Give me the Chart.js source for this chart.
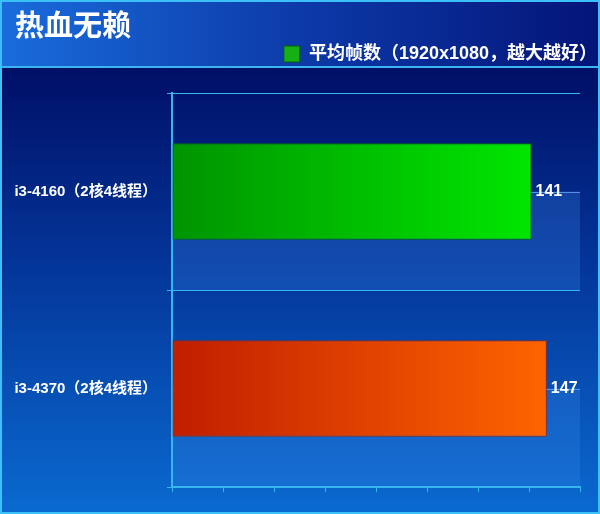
<!DOCTYPE html>
<html><head><meta charset="utf-8">
<script src="https://cdn.jsdelivr.net/npm/chart.js@4.4.0/dist/chart.umd.min.js"></script>
<style>html,body{margin:0;padding:0;background:#02106a;} #wrap{width:600px;height:514px;position:relative;} canvas{display:block;}</style>
</head><body><div id="wrap"><canvas id="c" width="600" height="514"></canvas></div>
<script>
const chartTitle = '热血无赖';
const seriesName = '平均帧数（1920x1080，越大越好）';
const categories = ['i3-4160（2核4线程）', 'i3-4370（2核4线程）'];
const fps = [141, 147];
const xTicks = [0, 20, 40, 60, 80, 100, 120, 140, 160];

const FONT = '"Liberation Sans", "Noto Sans CJK SC", sans-serif';
const barStart = ['#009400', '#c01e00'];
const barEnd = ['#00e600', '#ff6400'];
const barEdge = ['#006a00', '#9a2a10'];
const AXIS = '#36b6ee';

const bgPlugin = {
  id: 'bg',
  beforeLayout(chart) {
    const lg = chart.legend;
    if (lg && !lg._patched) {
      const f = lg.fit;
      lg.fit = function () { f.call(this); this.height += 20; };
      lg._patched = true;
    }
  },
  afterLayout(chart) {
    const lg = chart.legend;
    if (lg) { lg.left += 20; lg.right += 20; }
  },
  beforeDraw(chart) {
    const { ctx, width, height, chartArea: a } = chart;
    ctx.save();
    let g = ctx.createLinearGradient(0, 67, 0, height);
    g.addColorStop(0, '#000f66'); g.addColorStop(0.45, '#04369a'); g.addColorStop(1, '#0a6ad0');
    ctx.fillStyle = g; ctx.fillRect(0, 0, width, height);
    g = ctx.createLinearGradient(0, 0, width, 0);
    g.addColorStop(0, '#1a6cdc'); g.addColorStop(0.5, '#0c3aa8'); g.addColorStop(1, '#041478');
    ctx.fillStyle = g; ctx.fillRect(0, 0, width, 67);
    const ys = chart.scales.y;
    const half = (ys.getPixelForValue(1) - ys.getPixelForValue(0)) / 2;
    categories.forEach((_, i) => {
      const yc = ys.getPixelForValue(i);
      ctx.fillStyle = 'rgba(60,140,235,0.26)';
      ctx.fillRect(a.left, yc, a.right - a.left, half);
      ctx.strokeStyle = 'rgba(110,180,255,0.7)'; ctx.lineWidth = 1;
      ctx.beginPath(); ctx.moveTo(a.left, Math.round(yc) + 0.5); ctx.lineTo(a.right, Math.round(yc) + 0.5); ctx.stroke();
    });
    ctx.fillStyle = '#3cb4f0'; ctx.fillRect(0, 66, width, 2);
    ctx.strokeStyle = '#3cc0f8'; ctx.lineWidth = 2; ctx.strokeRect(1, 1, width - 2, height - 2);
    ctx.restore();
  },
  afterDatasetsDraw(chart) {
    const { ctx } = chart;
    const meta = chart.getDatasetMeta(0);
    ctx.save();
    ctx.fillStyle = '#ffffff';
    ctx.font = 'bold 16px ' + FONT;
    ctx.textAlign = 'left'; ctx.textBaseline = 'middle';
    meta.data.forEach((el, i) => { ctx.fillText(String(fps[i]), el.x + 4, el.y); });
    ctx.restore();
  }
};

new Chart(document.getElementById('c'), {
  type: 'bar',
  data: {
    labels: categories,
    datasets: [{
      label: seriesName,
      data: fps,
      backgroundColor: (c) => {
        const ch = c.chart, area = ch.chartArea, i = c.dataIndex;
        if (!area || c.type !== 'data' || !ch.scales.x) return barStart[i] || barStart[0];
        const xs = ch.scales.x;
        const g = ch.ctx.createLinearGradient(xs.getPixelForValue(0), 0, xs.getPixelForValue(c.raw), 0);
        g.addColorStop(0, barStart[i]); g.addColorStop(1, barEnd[i]);
        return g;
      },
      borderColor: barEdge,
      borderWidth: 1,
      borderSkipped: false,
      categoryPercentage: 0.5,
      barPercentage: 0.98
    }]
  },
  options: {
    indexAxis: 'y',
    responsive: false,
    animation: false,
    layout: { padding: { left: 15, right: 20, top: 0, bottom: 22 } },
    plugins: {
      title: {
        display: true, text: chartTitle, align: 'start', color: '#ffffff',
        font: { family: FONT, size: 29, weight: 'bold', lineHeight: 1 },
        padding: { top: 13, bottom: 0 }
      },
      legend: {
        display: true, position: 'top', align: 'end',
        labels: {
          color: '#ffffff', boxWidth: 16, boxHeight: 16, padding: 3,
          font: { family: FONT, size: 18, weight: 'bold' },
          generateLabels: () => [{ text: seriesName, fillStyle: '#14b014', strokeStyle: '#0a5a0a', lineWidth: 1, fontColor: '#ffffff', datasetIndex: 0, hidden: false }]
        }
      },
      tooltip: { enabled: false }
    },
    scales: {
      x: {
        min: xTicks[0], max: xTicks[xTicks.length - 1],
        ticks: { display: false, stepSize: xTicks[1] - xTicks[0] },
        grid: { drawOnChartArea: false, drawTicks: true, tickLength: 5, color: AXIS },
        border: { color: AXIS, width: 2 }
      },
      y: {
        grid: { color: AXIS, lineWidth: 1, tickLength: 5, offset: true, drawTicks: true },
        border: { color: AXIS, width: 2 },
        ticks: { color: '#ffffff', font: { family: FONT, size: 15, weight: 'bold' }, padding: 10 },
        afterFit: (s) => { s.width = 157; }
      }
    }
  },
  plugins: [bgPlugin]
});
</script></body></html>
